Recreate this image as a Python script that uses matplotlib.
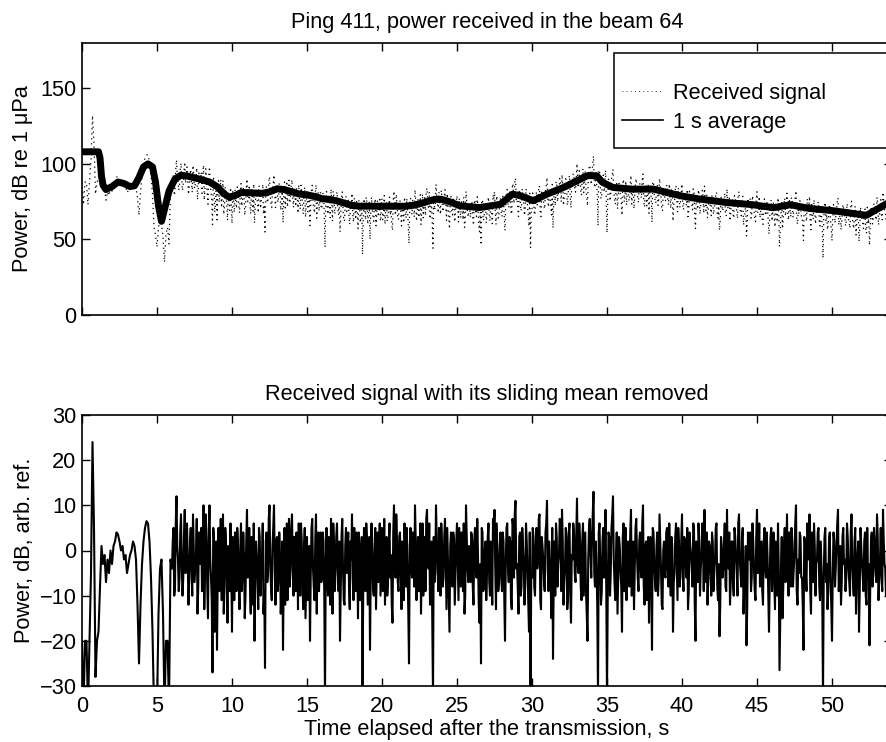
import numpy as np
import matplotlib
matplotlib.use("Agg")
import matplotlib.pyplot as plt
from matplotlib.lines import Line2D
from matplotlib.patches import Rectangle

plt.rcParams["font.family"] = ["Liberation Sans", "DejaVu Sans"]
FS = 15.7

# ---- data -------------------------------------------------------------
STEP = 0.1  # s between samples within a row; each row covers one second

# 1 s running average of the received power (dB re 1 uPa)
avg_time = [0.0, 1.1, 1.2, 1.3, 1.4, 1.6, 2.0, 2.4, 2.8, 3.2,
            3.5, 3.8, 4.1, 4.4, 4.7, 4.9, 5.1, 5.3, 5.5, 5.8,
            6.2, 6.6, 7.0, 8.0, 8.5, 9.0, 9.5, 9.8, 10.2, 10.6,
            11.0, 12.0, 12.5, 13.0, 13.5, 14.0, 14.5, 15.0, 15.5, 16.0,
            16.5, 17.0, 17.5, 18.0, 18.5, 19.0, 20.0, 21.0, 21.5, 22.0,
            22.5, 23.0, 23.5, 24.0, 24.5, 25.2, 26.5, 27.9, 28.7, 29.2,
            30.1, 31.0, 32.1, 32.8, 33.7, 34.3, 34.7, 35.4, 36.7, 38.1,
            39.9, 41.2, 43.0, 44.7, 46.1, 47.2, 48.5, 50.1, 51.9, 52.3,
            53.0, 53.7]
avg_db = [108, 108, 104, 92, 86, 83, 85, 88, 87, 85,
          85.5, 91, 98, 100, 98, 88, 72, 62, 70, 82,
          90, 92.5, 92, 89.5, 88, 85, 80, 78, 79, 81,
          81, 80.5, 81.5, 83.5, 83, 81.5, 80, 79.5, 78.5, 77,
          76.5, 75.5, 74, 72.5, 72, 72, 72, 72, 72, 72.5,
          73.5, 75, 76.5, 76.5, 75, 72.2, 71.1, 73.3, 80, 79,
          75.6, 80, 84.4, 87.8, 92.2, 92.2, 87.8, 84.4, 83.3, 83.3,
          78.9, 76.7, 74.4, 73, 71, 73, 70.5, 69, 66.5, 66,
          70, 74]

# received power minus its sliding mean (dB); row k holds t = k.0, k.1, ... k.9 s
resid_rows = [
    [-20, -35, -20, -20, -35, -20, -5, 24, 5, -28],
    [-20, -18, -8, 1, -3, -1, -7, -2, -5, 0],
    [-3, 1, 2, 4, 3.5, 2, 0, 1, -2, -1],
    [-5, -3, -1, 0, 2, 1, -2, -12, -25, -12],
    [-3, 2, 5, 6.5, 6, 2, -6, -18, -35, -35],
    [-35, -14, -4, -2, -14, -35, -20, -20, -35, -2],
    [-4, 5, -8, 12, -2, -6, 8, -10, 3, -5],
    [6, -12, 2, -4, 8, -7, -1, -14, 4, -3],
    [-9, 10, -5, 2, -15, 10, -6, -27, 3, -12],
    [-22, 5, -4, -11, 8, -8, 2, -16, -3, 6],
    [-18, -2, 4, -9, 1, -13, 6, -5, -1, -10],
    [9, -4, -8, 3, -12, -20, 2, -6, 5, -10],
    [-2, -14, -26, 4, -5, 10, -8, 1, 10, -12],
    [3, -6, -1, -9, -22, 5, -3, -11, 7, -4],
    [8, -10, -2, 4, -13, -5, 6, -8, 0, -15],
    [3, -7, -20, 5, -4, -11, 8, -2, -9, 4],
    [-6, 2, -32, 5, -10, -3, 7, -14, 1, -5],
    [6, -9, -20, 3, -4, -12, 5, -1, -8, 2],
    [8, -11, -3, 4, -15, 0, -6, -32, 5, -9],
    [2, -5, -22, 6, -8, 1, -13, 4, -2, -10],
    [5, -4, -12, 3, -7, 6, -1, -16, 10, -6],
    [2, -9, 4, -13, -1, 6, -8, -3, -25, 5],
    [-6, 1, 10, -11, 3, -5, -14, 6, -2, -9],
    [9, -4, -12, 2, -32, -7, 10, -3, 5, -10],
    [1, -6, 7, -13, -3, -18, 4, -8, 2, -5],
    [6, -11, -2, 4, -9, -14, 10, -4, 1, -7],
    [3, -12, 5, -6, -1, -16, -25, 4, -8, 2],
    [-5, 6, -10, -3, 7, 9, -13, -1, -7, 4],
    [-9, 2, -20, 5, -4, 3, -11, 7, -6, 11],
    [-3, -14, 4, -8, 1, -12, 6, -5, -18, -32],
    [-6, 3, -10, 5, -2, 8, -13, 1, -7, 4],
    [11, -9, -3, -15, -24, 2, 6, -8, -1, 5],
    [9, -12, -4, 3, -10, 6, -16, -2, 4, -7],
    [11.5, -5, 2, -11, 6, -3, -9, -20, 5, -1],
    [3, 13, -8, -4, -32, 6, -12, 2, -6, 9],
    [-32, 4, -10, 5, 12, -7, -2, -14, 3, -5],
    [-18, 6, -4, -11, 2, -8, 9, -3, -13, 5],
    [-1, -9, 4, -6, 10, -12, 2, -5, -16, 3],
    [-22, 4, -7, 1, -10, 8, -4, -13, 2, -6],
    [5, -8, -2, 3, -18, -5, 6, -11, 1, -4],
    [8, -9, 2, -6, -13, 4, -1, -8, 5, -20],
    [-3, 6, -10, -1, 3, 9, -7, -12, 2, -5],
    [4, -9, -2, 6, -11, -19, 3, -6, 1, -8],
    [9, -4, -12, 2, -7, 5, -1, -10, 8, -5],
    [3, -14, -6, -21, 4, -2, -9, 6, -4, -11],
    [9, -3, -8, 2, -12, 5, -6, -1, -18, 3],
    [-9, 4, -13, -2, 6, -26.5, -4, -15, 1, -7],
    [8, -10, -3, 5, -8, -1, 10, -12, -5, 3],
    [-6, -22, 2, -9, 4, 8, -14, -3, 6, -10],
    [-2, 5, -11, -4, -32, 3, -7, -13, 2, -6],
    [-20, 4, -8, 1, 9, -5, -12, 3, -3, -9],
    [6, -4, -10, 8, -7, 2, -14, -1, -18, 5],
    [-3, -9, 4, -12, -6, -21, 2, -8, 5, -4],
    [8, -11, -2, -6, 9, -3, -10, 4],
]

# in-between samples of the reverberation part; row k holds t = k.05, k.15, ... k.95 s
HALF_START = 6
resid_half_rows = [
    [2, -10, 6, 1, -9, 4, -3, -6, 9, -1],
    [-3, -6, 5, -10, 1, -4, 7, -8, -2, 5],
    [3, -13, 8, -8, 4, -2, -11, 5, -18, 2],
    [-5, -9, 7, -2, -14, 5, -6, 1, -9, -4],
    [3, -11, -4, 5, -7, 0, -9, 4, -15, 2],
    [-6, 5, -14, -3, 6, -8, -2, -13, 3, -5],
    [6, -9, 2, -7, 7, -3, -11, 5, -4, 2],
    [-9, 4, -14, 2, -5, -12, 6, 0, -8, 5],
    [-4, 3, -9, -1, 6, -10, 2, -13, 5, -6],
    [-11, 1, -5, 7, -8, 2, -14, 4, -3, -7],
    [4, -9, -3, -6, 3, -12, -2, 6, -9, 3],
    [-4, 2, -8, 7, -11, 1, -5, 4, -13, -2],
    [-6, 5, -9, -2, 4, -11, 3, -8, -1, 6],
    [-12, 3, -5, -1, -10, 5, -4, -7, 6, -3],
    [-9, 7, -2, -10, 2, -6, -12, 4, -3, 8],
    [-7, 3, -5, 2, -11, -2, 5, -13, 1, -4],
    [4, -8, 2, -5, -9, 6, -3, -10, 3, 7],
    [-2, 6, -7, -14, 3, -5, 2, -9, -4, 6],
    [-8, 3, -3, 5, -11, 1, -6, 4, -12, 2],
    [-3, 5, -8, -1, 6, -10, 3, -7, -2, 4],
    [-8, 2, -4, 7, -12, -3, 5, -9, 0, -11],
    [3, -7, 2, -12, 4, -4, 6, -9, 1, -6],
    [4, -10, -3, 6, -7, 2, -13, 5, 8, -4],
    [-8, 3, -10, 5, -3, -7, 2, -12, 4, -6],
    [5, -8, 1, -4, 7, -11, 3, -2, -9, 6],
    [-4, 2, -8, 5, -6, -10, 3, -3, 7, -9],
    [2, -7, 5, -13, 4, -9, -1, 6, -5, 3],
    [-3, 6, -8, 2, -10, 4, -14, -2, 7, -6],
    [8, -5, 2, -12, 4, -3, -9, 5, -2, -8],
    [-10, 3, -5, 8, -2, -11, 4, -6, 1, -8],
    [3, -9, 5, -2, -7, 4, -10, 2, -4, 7],
    [-6, 2, -4, 6, -8, 1, -11, 3, -2, -7],
    [5, -3, -9, 4, -6, 2, -12, 0, -5, 4],
    [-4, 6, -10, 1, -7, 3, -3, 5, -8, 2],
    [-6, 3, -3, 5, -9, 1, -4, 6, -12, 2],
    [-7, 2, -4, 6, -9, -3, 4, -6, 1, -10],
    [2, -5, 5, -8, -3, -12, 1, -4, 6, -9],
    [-3, 4, -7, 2, -10, 3, -5, 6, -2, -8],
    [5, -8, 1, -12, -1, 4, -6, 2, -9, 3],
    [-5, 6, -3, -9, 2, -4, 4, -10, -6, 5],
    [-3, -7, 2, -10, -4, -15, 3, -8, 5, -2],
    [-5, 4, -8, 2, -4, 6, -9, -2, 4, -6],
    [-12, 3, -5, 6, -2, -9, 4, -7, 1, -3],
    [4, -8, 2, -10, -6, 5, -3, -9, 4, -12],
    [-5, 2, -4, 6, -9, 1, -7, 5, -2, -6],
    [3, -7, 4, -3, -10, 5, -6, 2, -9, 1],
    [-6, 2, -10, 5, -3, -8, 4, -5, 2, -7],
    [3, -6, 5, -9, 2, -4, -7],
]

top_title = "Ping 411, power received in the beam 64"
bottom_title = "Received signal with its sliding mean removed"
top_ylabel = "Power, dB re 1 \u03bcPa"
bottom_ylabel = "Power, dB, arb. ref."
xlabel = "Time elapsed after the transmission, s"
legend_labels = ["Received signal", "1 s average"]
x_ticks = [0, 5, 10, 15, 20, 25, 30, 35, 40, 45, 50]
top_yticks = [0, 50, 100, 150]
bottom_yticks = [-30, -20, -10, 0, 10, 20, 30]

# ---- derived series ---------------------------------------------------
def rows_to_series(rows, first_second, offset):
    times, vals = [], []
    for k, row in enumerate(rows):
        for j, v in enumerate(row):
            times.append(first_second + k + offset + j * STEP)
            vals.append(v)
    return times, vals

ta, va = rows_to_series(resid_rows, 0, 0.0)
tb, vb = rows_to_series(resid_half_rows, HALF_START, STEP / 2)
order = np.argsort(ta + tb)
t = np.asarray(ta + tb)[order]
resid = np.asarray(va + vb, float)[order]
received = np.interp(t, avg_time, avg_db) + resid

# ---- figure -----------------------------------------------------------
W, H = 887, 742
fig = plt.figure(figsize=(W / 100, H / 100), dpi=100)

def px_axes(left, top, right, bottom):
    return fig.add_axes([left / W, 1 - bottom / H, (right - left) / W, (bottom - top) / H])

ax1 = px_axes(82, 43, 892, 315)
ax2 = px_axes(82, 415, 892, 686)

dot_style = dict(color="k", lw=0.9, ls=(0, (1, 3)))
ax1.plot(t, received, **dot_style)
ax1.plot(avg_time, avg_db, color="k", lw=5.0, solid_joinstyle="round")
ax1.set_ylim(0, 180)
ax1.set_yticks(top_yticks)
ax1.set_ylabel(top_ylabel, fontsize=FS, labelpad=5)
ax1.set_title(top_title, fontsize=FS, pad=11)
ax1.set_xticklabels([])

ax2.plot(t, resid, color="k", lw=1.5)
ax2.set_ylim(-30, 30)
ax2.set_yticks(bottom_yticks)
ax2.set_ylabel(bottom_ylabel, fontsize=FS, labelpad=3)
ax2.set_title(bottom_title, fontsize=FS, pad=11)
ax2.set_xlabel(xlabel, fontsize=FS, labelpad=2)

for ax in (ax1, ax2):
    ax.set_xlim(0, 54)
    ax.set_xticks(x_ticks)
    ax.tick_params(direction="in", top=True, right=True, length=6, width=1,
                   labelsize=FS, pad=4)
    ax.tick_params(axis="x", pad=7)
    for s in ax.spines.values():
        s.set_linewidth(1.2)
ax2.set_xticklabels([str(v) for v in x_ticks])

# legend frame and entries
frame = Rectangle((614 / W, 1 - 148 / H), (905 - 614) / W, (148 - 53) / H,
                  transform=fig.transFigure, facecolor="white", edgecolor="k",
                  lw=1.1, zorder=5, clip_on=False)
ax1.add_patch(frame)
handles = [Line2D([], [], color="k", lw=0.6, ls=(0, (1, 4))),
           Line2D([], [], color="k", lw=1.2)]
leg = ax1.legend(handles, legend_labels, loc="upper left",
                 bbox_to_anchor=(622 / W, 1 - 83 / H), bbox_transform=fig.transFigure,
                 frameon=False, fontsize=FS, borderpad=0, borderaxespad=0,
                 handlelength=1.9, handletextpad=0.42, labelspacing=0.36)
leg.set_zorder(6)

fig.savefig("out.png", dpi=100)
